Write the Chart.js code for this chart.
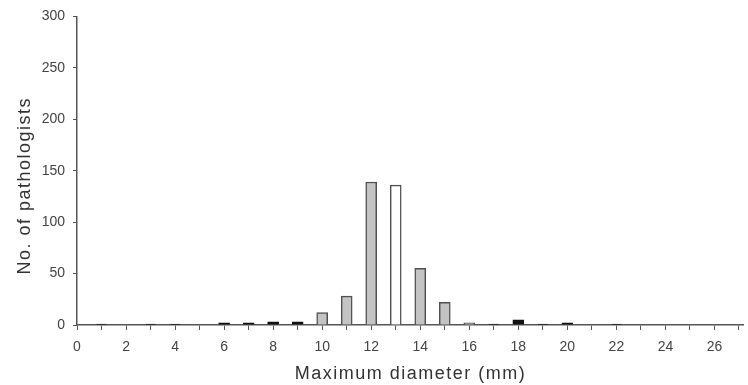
<!DOCTYPE html>
<html>
<head>
<meta charset="utf-8">
<script src="https://cdn.jsdelivr.net/npm/chart.js@4"></script>
<style>
  html, body { margin:0; padding:0; background:#fff; }
  #wrap { width:748px; height:385px; }
</style>
</head>
<body>
<div id="wrap"><canvas id="chart" width="748" height="385"></canvas></div>
<script>
// diameters (mm) and number of pathologists, split by bar shading
const greyX = [10, 11, 12, 14, 15, 16];
const greyY = [12, 28, 139, 55, 22, 2];
const whiteX = [13];
const whiteY = [136];
const blackX = [1, 3, 4, 6, 7, 8, 9, 17, 18, 19, 20, 22];
const blackY = [1, 1, 1, 2, 2, 3, 3, 1, 5, 1, 2, 1];
const yTicks = [0, 50, 100, 150, 200, 250, 300];

const pts = (xs, ys) => xs.map((x, i) => ({ x, y: ys[i] }));
const axisCol = '#555';
const family = '"Liberation Sans", Arial, sans-serif';
const font = { family, size: 14 };

// axis titles in the original are spaced out a little, and the y title sits lower
const titleShift = { x: 0, y: 15 };
const spacedTitles = {
  id: 'spacedTitles',
  beforeDraw(chart) {
    Object.values(chart.scales).forEach(s => {
      if (s._spaced) return;
      const orig = s.drawTitle;
      s.drawTitle = function () {
        const ctx = this.ctx;
        ctx.save();
        ctx.letterSpacing = '1.5px';
        ctx.translate(0, titleShift[this.id] || 0);
        orig.apply(this, arguments);
        ctx.restore();
      };
      s._spaced = true;
    });
  }
};

new Chart(document.getElementById('chart'), {
  type: 'bar',
  data: {
    datasets: [
      { data: pts(greyX, greyY), backgroundColor: '#c4c4c4', borderColor: '#505050', borderWidth: 1.5 },
      { data: pts(whiteX, whiteY), backgroundColor: '#ffffff', borderColor: '#505050', borderWidth: 1.5 },
      { data: pts(blackX, blackY), backgroundColor: '#111', borderColor: '#111', borderWidth: 1.5 }
    ]
  },
  plugins: [spacedTitles],
  options: {
    responsive: false,
    animation: false,
    layout: { padding: { top: 13, right: 2, left: 0, bottom: 0 } },
    datasets: { bar: { grouped: false, barThickness: 11 } },
    plugins: { legend: { display: false }, tooltip: { enabled: false } },
    scales: {
      x: {
        type: 'linear', min: 0, max: 27.2, offset: false,
        afterFit: s => { s.height = 60; },
        afterBuildTicks: s => { s.ticks = Array.from({ length: 28 }, (_, i) => ({ value: i })); },
        ticks: {
          autoSkip: false, maxRotation: 0, color: '#444', font, padding: 9,
          callback: v => (v % 2 === 0 ? String(v) : '')
        },
        grid: { drawOnChartArea: false, offset: false, tickLength: 5, color: axisCol, tickColor: axisCol },
        border: { color: axisCol, width: 1.5 },
        title: { display: true, text: 'Maximum diameter (mm)', color: '#333',
          font: { family, size: 18 }, padding: { top: 0, bottom: 0 } }
      },
      y: {
        min: 0, max: 300,
        afterFit: s => { s.width = 77; },
        afterBuildTicks: s => { s.ticks = yTicks.map(v => ({ value: v })); },
        ticks: { color: '#444', font, padding: 8 },
        grid: { drawOnChartArea: false, tickLength: 4, color: axisCol, tickColor: axisCol },
        border: { color: axisCol, width: 1.5 },
        title: { display: true, text: 'No. of pathologists', color: '#333',
          font: { family, size: 18 }, padding: { top: 14, bottom: 0 } }
      }
    }
  }
});
</script>
</body>
</html>
